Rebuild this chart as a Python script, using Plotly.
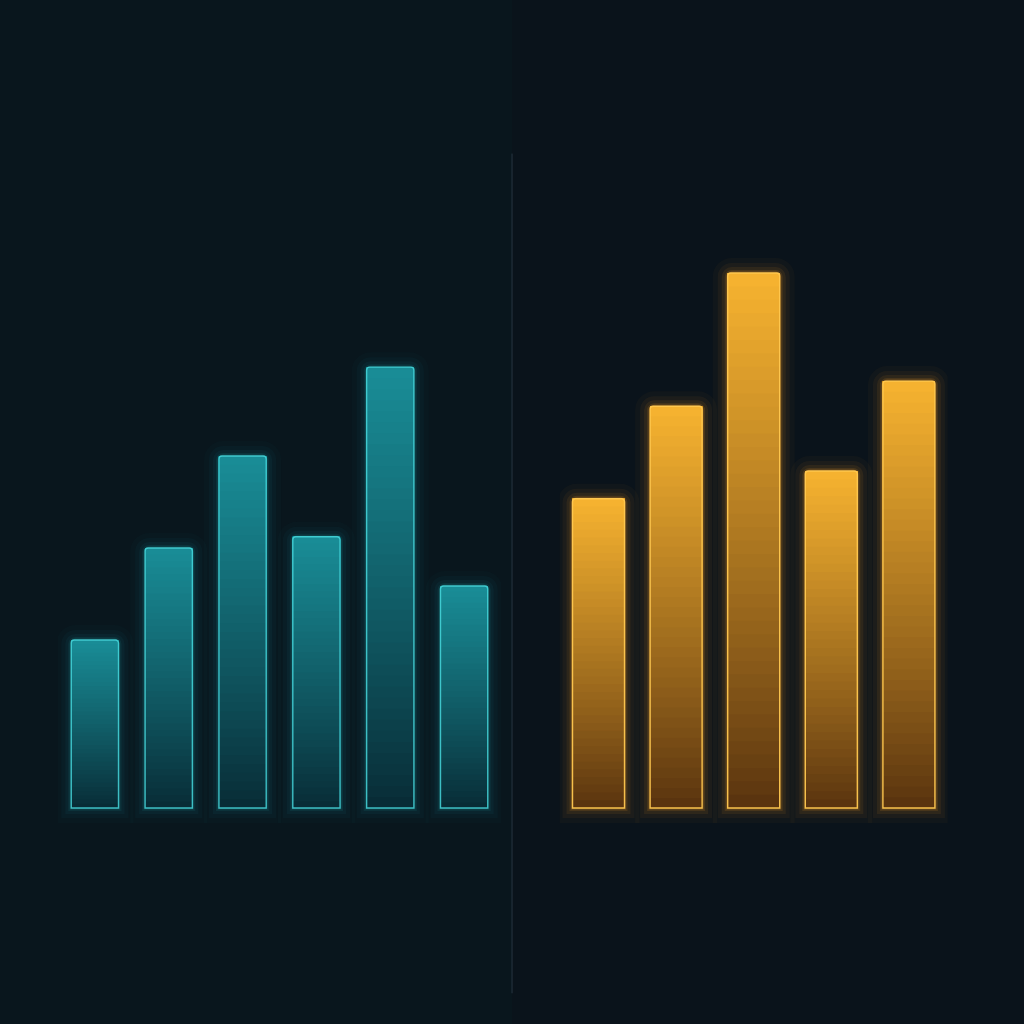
import plotly.graph_objects as go

# ---- data ----
left_categories = ["A1", "A2", "A3", "A4", "A5", "A6"]
left_values = [31.4, 48.6, 65.8, 50.7, 82.4, 41.5]
right_categories = ["B1", "B2", "B3", "B4", "B5"]
right_values = [57.8, 75.1, 100.0, 63.0, 79.8]

# ---- style ----
BG = "#0a131b"
CYAN_TOP = (25, 140, 150)
CYAN_BOT = (8, 44, 54)
CYAN_EDGE = "rgba(70,215,220,0.85)"
ORANGE_TOP = (245, 178, 48)
ORANGE_BOT = (90, 52, 15)
ORANGE_EDGE = "rgba(255,200,80,0.95)"
N_LAYERS = 40


def lerp(a, b, t):
    return tuple(int(round(a[i] + (b[i] - a[i]) * t)) for i in range(3))


def add_group(fig, cats, vals, top, bot, edge, glow_rgb, xaxis, width, glow_strength):
    # glow behind bars
    for lw, a in [(30, 0.025), (20, 0.04), (12, 0.06), (6, 0.10), (3, 0.16)]:
        fig.add_trace(go.Bar(
            x=cats, y=vals, xaxis=xaxis, yaxis="y", width=width,
            marker=dict(color="rgba(0,0,0,0)",
                        line=dict(color=f"rgba({glow_rgb[0]},{glow_rgb[1]},{glow_rgb[2]},{a * glow_strength})", width=lw),
                        cornerradius=4),
            hoverinfo="skip", showlegend=False))
    # vertical gradient fill via overlapping layers
    for k in range(N_LAYERS):
        f = k / N_LAYERS
        c = lerp(bot, top, (k / (N_LAYERS - 1)) ** 0.9)
        fig.add_trace(go.Bar(
            x=cats, y=[v * (1 - f) for v in vals], base=[v * f for v in vals],
            xaxis=xaxis, yaxis="y", width=width,
            marker=dict(color=f"rgb({c[0]},{c[1]},{c[2]})", line=dict(width=0)),
            hoverinfo="skip", showlegend=False))
    # bright outline
    fig.add_trace(go.Bar(
        x=cats, y=vals, xaxis=xaxis, yaxis="y", width=width,
        marker=dict(color="rgba(0,0,0,0)", line=dict(color=edge, width=1.4), cornerradius=3),
        hoverinfo="skip", showlegend=False))


fig = go.Figure()
add_group(fig, left_categories, left_values, CYAN_TOP, CYAN_BOT, CYAN_EDGE, (40, 200, 210), "x", 0.64, 0.8)
add_group(fig, right_categories, right_values, ORANGE_TOP, ORANGE_BOT, ORANGE_EDGE, (250, 165, 40), "x2", 0.67, 1.3)

hidden = dict(showgrid=False, zeroline=False, showticklabels=False, showline=False, ticks="")
fig.update_layout(
    width=1024, height=1024,
    margin=dict(l=0, r=0, t=0, b=0),
    paper_bgcolor=BG, plot_bgcolor=BG,
    barmode="overlay",
    showlegend=False,
    xaxis=dict(domain=[0.0566, 0.4893], type="category", **hidden),
    xaxis2=dict(domain=[0.5466, 0.9255], type="category", anchor="y", **hidden),
    yaxis=dict(range=[-40.37, 151.03], **hidden),
    shapes=[
        dict(type="line", xref="paper", yref="paper", x0=0.5, x1=0.5, y0=0.03, y1=0.85,
             line=dict(color="rgba(80,100,115,0.45)", width=1), layer="below"),
        dict(type="rect", xref="paper", yref="paper", x0=0, x1=0.5, y0=0, y1=1,
             fillcolor="rgba(10,40,50,0.15)", line=dict(width=0), layer="below"),
    ],
)

fig.write_html(
    "out.html",
    config={"displayModeBar": False, "staticPlot": True},
    post_script="document.body.style.margin='0';document.body.style.overflow='hidden';"
                "document.body.style.background='" + BG + "';",
)
